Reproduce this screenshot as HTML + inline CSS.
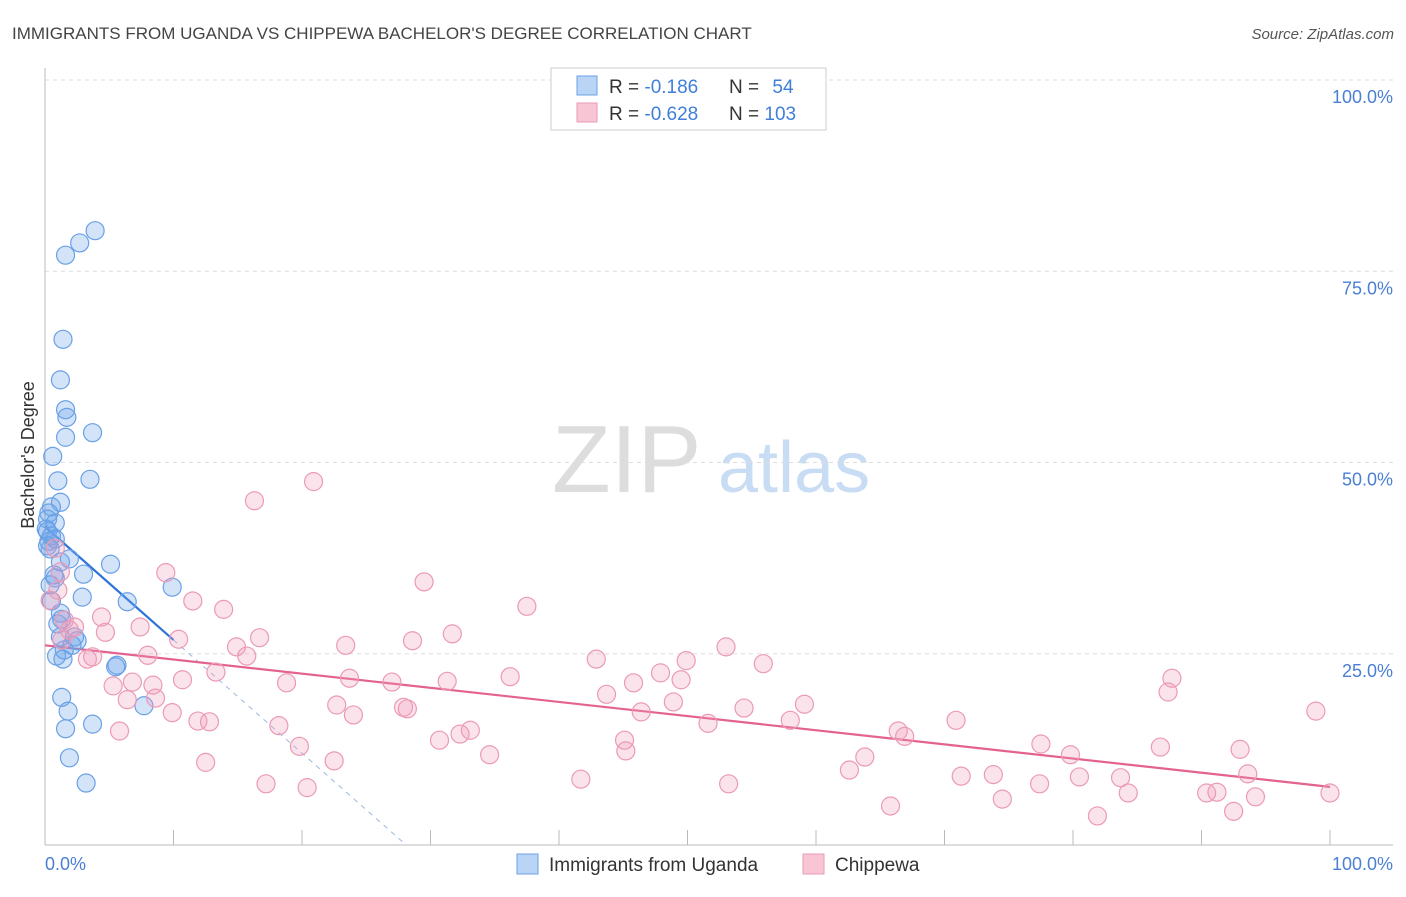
<!DOCTYPE html>
<html><head><meta charset="utf-8"><style>
body{margin:0;background:#fff;font-family:"Liberation Sans",sans-serif;}
svg text{font-family:"Liberation Sans",sans-serif;}
</style></head><body>
<svg id="chart" width="1406" height="892">
<text x="12" y="39" font-size="17" fill="#444">IMMIGRANTS FROM UGANDA VS CHIPPEWA BACHELOR'S DEGREE CORRELATION CHART</text>
<text x="1394" y="39" font-size="15" fill="#555" font-style="italic" text-anchor="end">Source: ZipAtlas.com</text>
<g>
<text x="552" y="492" font-size="96" fill="#ddd" font-family="Liberation Serif">ZIP</text>
<text x="718" y="492" font-size="72" fill="#c8dcf3">atlas</text>
</g>
<g id="grid"></g>
<g id="axes"></g>
<g id="trend"></g>
<g id="pts"></g>
<g>
<rect x="551" y="68" width="275" height="62" fill="#fff" stroke="#ccc"/>
<rect x="577" y="76" width="20" height="19" fill="#b9d4f5" stroke="#6aa0e6"/>
<rect x="577" y="103" width="20" height="19" fill="#f8c5d4" stroke="#eb9ab5"/>
<text x="609" y="93" font-size="19" fill="#333">R = <tspan fill="#3f7fd9">-0.186</tspan></text>
<text x="729" y="93" font-size="19" fill="#333">N = <tspan fill="#3f7fd9" dx="8">54</tspan></text>
<text x="609" y="120" font-size="19" fill="#333">R = <tspan fill="#3f7fd9">-0.628</tspan></text>
<text x="729" y="120" font-size="19" fill="#333">N = <tspan fill="#3f7fd9">103</tspan></text>
</g>
<text transform="translate(34,455) rotate(-90)" font-size="18" fill="#333" text-anchor="middle">Bachelor's Degree</text>
<text x="45" y="870" font-size="18" fill="#4a7fd4">0.0%</text>
<text x="1393" y="870" font-size="18" fill="#4a7fd4" text-anchor="end">100.0%</text>
<g>
<rect x="517" y="854" width="21" height="20" fill="#b9d4f5" stroke="#6aa0e6"/>
<text x="549" y="871" font-size="19" fill="#333">Immigrants from Uganda</text>
<rect x="803" y="854" width="21" height="20" fill="#f8c5d4" stroke="#eb9ab5"/>
<text x="835" y="871" font-size="19" fill="#333">Chippewa</text>
</g>
</svg>
<script>
const yTicks=[25,50,75,100];
const yTickLabels=["25.0%","50.0%","75.0%","100.0%"];
const xTicks=[0,10,20,30,40,50,60,70,80,90,100];
const ugX=[3.9,2.7,1.6,1.4,1.2,1.6,1.7,1.6,3.7,0.6,3.5,1.0,1.2,0.5,0.3,0.8,0.2,0.5,0.3,0.2,0.4,1.9,1.2,5.1,3.0,0.8,0.5,2.9,6.4,1.2,9.9,1.0,2.3,2.5,1.2,2.1,0.9,1.4,5.6,5.5,7.7,1.3,1.8,3.7,1.6,1.9,3.2,0.2,0.1,0.8,1.5,0.4,0.7,1.3];
const ugY=[80.3,78.7,77.1,66.1,60.8,56.9,55.9,53.3,53.9,50.8,47.8,47.6,44.8,44.2,43.4,42.1,41.0,40.4,39.7,39.1,38.7,37.4,37.0,36.7,35.4,34.9,31.9,32.4,31.8,30.3,33.7,28.9,27.2,26.7,27.2,26.1,24.7,24.3,23.5,23.3,18.2,19.3,17.5,15.8,15.2,11.4,8.1,42.6,41.3,40.0,25.5,34.0,35.3,29.5];
const chX=[20.9,16.3,9.4,29.5,37.5,11.5,13.9,4.4,2.3,4.7,7.4,10.4,14.9,16.7,23.4,28.6,31.7,53.0,42.9,49.9,8.0,3.7,3.3,15.7,13.3,10.7,23.7,27.0,31.3,36.2,45.8,47.9,49.5,55.9,87.7,87.4,5.3,6.8,8.4,6.4,8.6,18.8,22.7,24.0,27.9,28.2,43.7,46.4,48.9,54.4,59.1,58.0,51.6,9.9,11.9,12.8,18.2,33.1,32.3,30.7,45.1,45.2,66.4,70.9,66.9,63.8,19.8,5.8,12.5,22.5,34.6,41.7,53.2,62.6,71.3,73.8,77.5,79.8,80.5,83.7,84.3,86.8,93.0,93.6,98.9,100.0,91.2,90.4,92.5,94.2,81.9,74.5,77.4,65.8,20.4,17.2,0.8,1.2,1.0,1.5,1.9,0.4,1.3];
const chY=[47.5,45.0,35.6,34.4,31.2,31.9,30.8,29.8,28.5,27.8,28.5,26.9,25.9,27.1,26.1,26.7,27.6,25.9,24.3,24.1,24.8,24.6,24.3,24.7,22.6,21.6,21.8,21.3,21.4,22.0,21.2,22.5,21.6,23.7,21.8,20.0,20.8,21.3,20.9,19.0,19.2,21.2,18.3,17.0,18.0,17.8,19.7,17.4,18.7,17.9,18.4,16.3,15.9,17.3,16.2,16.1,15.6,15.0,14.5,13.7,13.7,12.3,14.9,16.3,14.2,11.5,12.9,14.9,10.8,11.0,11.8,8.6,8.0,9.8,9.0,9.2,13.2,11.8,8.9,8.8,6.8,12.8,12.5,9.3,17.5,6.8,6.9,6.8,4.4,6.3,3.8,6.0,8.0,5.1,7.5,8.0,38.8,35.7,33.3,29.4,28.1,32.0,26.8];
const ugTrend=[41.6,-1.48];
const chTrend=[26.1,-0.185];
const X=v=>45+v*12.85, Y=v=>845-v*7.65;
const NS="http://www.w3.org/2000/svg";
function mk(p,t,a){const e=document.createElementNS(NS,t);for(const k in a)e.setAttribute(k,a[k]);p.appendChild(e);return e;}
const grid=document.getElementById('grid'),axes=document.getElementById('axes'),pts=document.getElementById('pts'),trend=document.getElementById('trend');
yTicks.forEach((t,i)=>{
 const l=mk(grid,'line',{x1:45,x2:1393,y1:Y(t),y2:Y(t),stroke:'#ddd','stroke-dasharray':'4,4'});
 
 
 const tx=mk(grid,'text',{x:1393,y:Y(t)+23,'font-size':18,fill:'#4a7fd4','text-anchor':'end'});
 tx.textContent=yTickLabels[i];
 
 
});
let a1=mk(axes,'line',{x1:45,x2:45,y1:68,y2:845,stroke:'#bbb'});


let a2=mk(axes,'line',{x1:45,x2:1393,y1:845,y2:845,stroke:'#bbb'});


xTicks.forEach(t=>{
 const l=mk(axes,'line',{x1:X(t),x2:X(t),y1:845,y2:830,stroke:'#bbb'});
 
 
});
for(let i=0;i<ugX.length;i++){
 const c=mk(pts,'circle',{cx:X(ugX[i]),cy:Y(ugY[i]),r:9,fill:'rgba(110,165,235,0.3)',stroke:'#6aa0e6','stroke-width':1.2});
 
 
}
for(let i=0;i<chX.length;i++){
 const c=mk(pts,'circle',{cx:X(chX[i]),cy:Y(chY[i]),r:9,fill:'rgba(242,155,185,0.28)',stroke:'#eb9ab5','stroke-width':1.2});
 
 
}
const ugEnd=-ugTrend[0]/ugTrend[1];
let d=mk(trend,'line',{x1:X(10),y1:Y(ugTrend[0]+ugTrend[1]*10),x2:X(ugEnd),y2:Y(0),stroke:'#9ab8e0','stroke-dasharray':'5,5'});


let u=mk(trend,'line',{x1:X(0),y1:Y(ugTrend[0]),x2:X(10),y2:Y(ugTrend[0]+ugTrend[1]*10),stroke:'#2f74d8','stroke-width':2.2});


let c2=mk(trend,'line',{x1:X(0),y1:Y(chTrend[0]),x2:X(100),y2:Y(chTrend[0]+chTrend[1]*100),stroke:'#e4628f','stroke-width':2.2});


</script>
</body></html>
